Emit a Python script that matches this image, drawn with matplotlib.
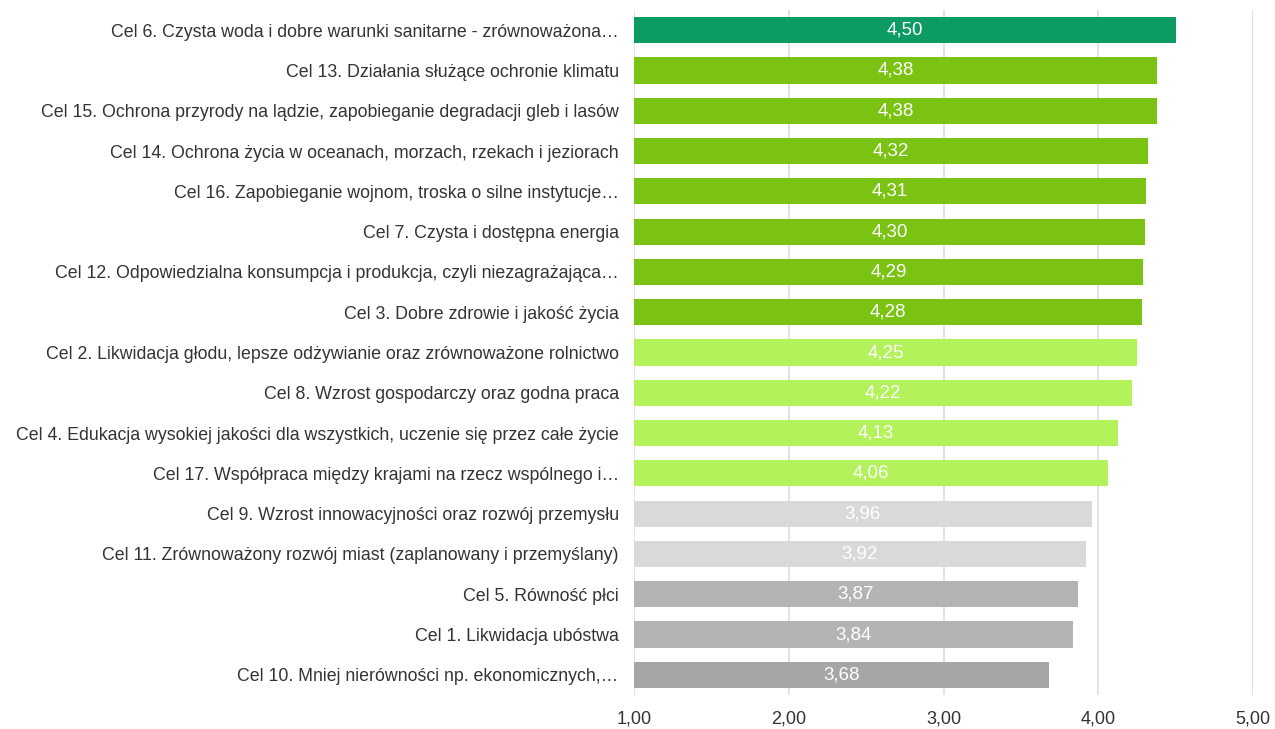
import matplotlib.pyplot as plt

plt.rcParams['font.family'] = ['Liberation Sans', 'DejaVu Sans']

etykiety = [
    "Cel 6. Czysta woda i dobre warunki sanitarne - zrównoważona…",
    "Cel 13. Działania służące ochronie klimatu",
    "Cel 15. Ochrona przyrody na lądzie, zapobieganie degradacji gleb i lasów",
    "Cel 14. Ochrona życia w oceanach, morzach, rzekach i jeziorach",
    "Cel 16. Zapobieganie wojnom, troska o silne instytucje…",
    "Cel 7. Czysta i dostępna energia",
    "Cel 12. Odpowiedzialna konsumpcja i produkcja, czyli niezagrażająca…",
    "Cel 3. Dobre zdrowie i jakość życia",
    "Cel 2. Likwidacja głodu, lepsze odżywianie oraz zrównoważone rolnictwo",
    "Cel 8. Wzrost gospodarczy oraz godna praca",
    "Cel 4. Edukacja wysokiej jakości dla wszystkich, uczenie się przez całe życie",
    "Cel 17. Współpraca między krajami na rzecz wspólnego i…",
    "Cel 9. Wzrost innowacyjności oraz rozwój przemysłu",
    "Cel 11. Zrównoważony rozwój miast (zaplanowany i przemyślany)",
    "Cel 5. Równość płci",
    "Cel 1. Likwidacja ubóstwa",
    "Cel 10. Mniej nierówności np. ekonomicznych,…",
]
wartosci = [4.50, 4.38, 4.38, 4.32, 4.31, 4.30, 4.29, 4.28,
            4.25, 4.22, 4.13, 4.06, 3.96, 3.92, 3.87, 3.84, 3.68]
kolory = (['#0b9b63'] + ['#7ac313'] * 7 + ['#b3f25a'] * 4
          + ['#d9d9d9'] * 2 + ['#b4b4b4'] * 2 + ['#a6a6a6'])
ticki = [1, 2, 3, 4, 5]

fig = plt.figure(figsize=(12.75, 7.29), dpi=100)
ax = fig.add_axes([634 / 1275, 34 / 729, 619 / 1275, 685 / 729])

y = list(range(len(wartosci)))
ax.barh(y, [v - 1 for v in wartosci], left=1, height=0.65, color=kolory, zorder=2)

for yi, v in zip(y, wartosci):
    ax.text(1 + (v - 1) / 2, yi, f"{v:.2f}".replace('.', ','), ha='center', va='center',
            color='white', fontsize=13.5, zorder=3)

ax.set_xlim(1, 5)
ax.set_ylim(len(wartosci) - 0.5, -0.5)
ax.set_xticks(ticki)
ax.set_xticklabels([f"{t:.2f}".replace('.', ',') for t in ticki], fontsize=13, color='#333333')
ax.set_yticks(y)
ax.set_yticklabels(etykiety, fontsize=12.8, color='#333333')
ax.tick_params(axis='both', length=0)
ax.tick_params(axis='y', pad=11)
ax.tick_params(axis='x', pad=11)
ax.xaxis.grid(True, color='#dddddd', linewidth=1.2, zorder=0)
for s in ax.spines.values():
    s.set_visible(False)

fig.savefig('out.png', dpi=100)
